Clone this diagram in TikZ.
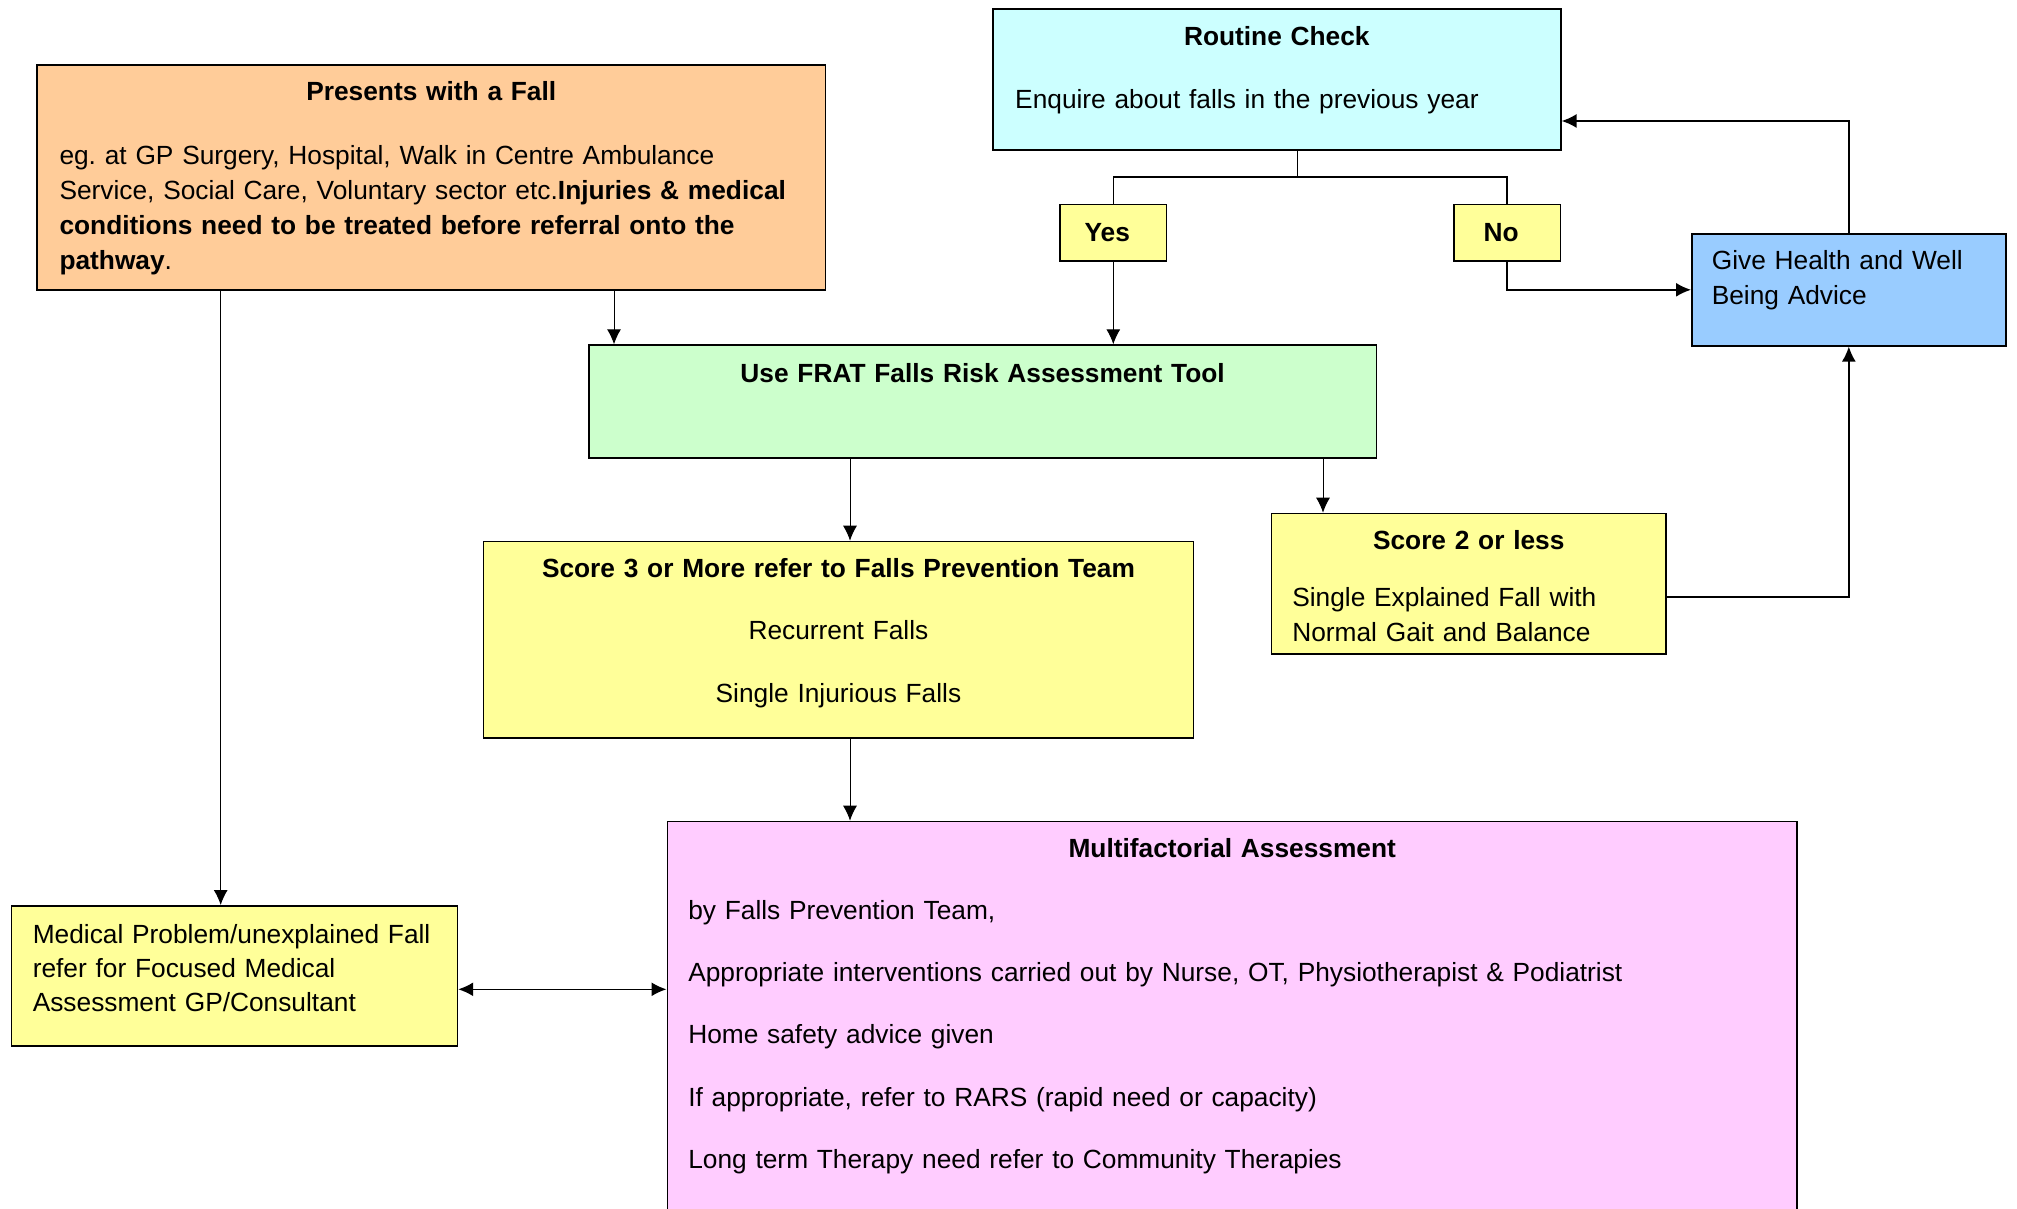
\documentclass[tikz,border=0pt]{standalone}
\usepackage{fontspec}
\setmainfont{Liberation Sans}
\usetikzlibrary{arrows.meta,calc}
\frenchspacing

\definecolor{fallorange}{HTML}{FFCC99}
\definecolor{checkcyan}{HTML}{CCFFFF}
\definecolor{fratgreen}{HTML}{CCFFCC}
\definecolor{scoreyellow}{HTML}{FFFF99}
\definecolor{adviceblue}{HTML}{99CCFF}
\definecolor{assesspink}{HTML}{FFCCFF}

\newcommand{\padtop}[1]{\rule{0pt}{#1}}
\newcommand{\padbot}[1]{\rule[-#1]{0pt}{#1}}
\newcommand{\boxtitle}[1]{\makebox[\hsize]{\bfseries #1}}

\begin{document}
\begin{tikzpicture}[x=0.5pt, y=-0.5pt, >={Latex[length=7.5pt,width=7pt]},
  block/.style={rectangle, draw, line width=0.8pt, anchor=north west, inner ysep=0pt, align=left,
    font=\fontsize{13.15pt}{17.5pt}\selectfont},
  choice/.style={rectangle, draw, line width=0.8pt, fill=scoreyellow, minimum width=53.25pt,
    minimum height=28.15pt, inner sep=0pt, font=\fontsize{13.15pt}{17.5pt}\selectfont\bfseries},
  thin link/.style={line width=0.5pt},
  thick link/.style={line width=0.8pt}]
  \useasboundingbox (0,0) rectangle (2017,1209);

  \node[block, fill=fallorange, text width=371.8pt, inner xsep=11.15pt] (fall) at (36.4,64.3)
    {\padtop{17.75pt}\boxtitle{Presents with a Fall}\\[14.5pt]
     eg. at GP Surgery, Hospital, Walk in Centre Ambulance\\
     Service, Social Care, Voluntary sector etc.\textbf{Injuries \& medical}\\
     \textbf{conditions need to be treated before referral onto the}\\
     \textbf{pathway}.\padbot{10.25pt}};
  \node[block, fill=checkcyan, text width=261.6pt, inner xsep=11.2pt] (routine) at (992,8.3)
    {\padtop{18.25pt}\boxtitle{Routine Check}\\[14.15pt]
     Enquire about falls in the previous year\padbot{20.6pt}};
  \node[choice] (yes) at (1113.3,232.8) {Yes\kern6pt};
  \node[choice] (no) at (1507.1,232.8) {No\kern6pt};
  \node[block, fill=adviceblue, text width=137pt, inner xsep=10pt] (give) at (1691,233)
    {\padtop{17.9pt}Give Health and Well\\
     Being Advice\padbot{20.6pt}};
  \node[block, fill=fratgreen, text width=371.8pt, inner xsep=11pt, align=center] (frat) at (588,344.3)
    {\padtop{18.45pt}\textbf{Use FRAT Falls Risk Assessment Tool}\padbot{37.9pt}};
  \node[block, fill=scoreyellow, text width=332.95pt, inner xsep=11pt, align=center] (score3) at (482.7,540.7)
    {\padtop{17.75pt}\textbf{Score 3 or More refer to Falls Prevention Team}\\[13.75pt]
     Recurrent Falls\\[13.75pt]
     Single Injurious Falls\padbot{17.9pt}};
  \node[block, fill=scoreyellow, text width=176.45pt, inner xsep=10.4pt] (score2) at (1270.7,512.7)
    {\padtop{18.05pt}\boxtitle{Score 2 or less}\\[11pt]
     Single Explained Fall with\\
     Normal Gait and Balance\padbot{6.05pt}};
  \node[block, fill=scoreyellow, text width=201.7pt, inner xsep=10.6pt,
    font=\fontsize{13.15pt}{17pt}\selectfont] (medical) at (10.8,905)
    {\padtop{18.6pt}Medical Problem/unexplained Fall\\
     refer for Focused Medical\\
     Assessment GP/Consultant\padbot{17.4pt}};
  \node[block, fill=assesspink, text width=543.95pt, inner xsep=10.5pt] (multi) at (666.5,820.7)
    {\padtop{17.75pt}\boxtitle{Multifactorial Assessment}\\[13.65pt]
     by Falls Prevention Team,\\[13.65pt]
     Appropriate interventions carried out by Nurse, OT, Physiotherapist \& Podiatrist\\[13.65pt]
     Home safety advice given\\[13.65pt]
     If appropriate, refer to RARS (rapid need or capacity)\\[13.65pt]
     Long term Therapy need refer to Community Therapies\padbot{36pt}};

  \coordinate (split) at (1297.5,177);
  \draw[thick link] (routine.south -| split) -- (split);
  \draw[thick link] (yes.north) |- (split) -| (no.north);
  \draw[thin link, ->] (yes.south) -- (frat.north -| yes.south);
  \draw[thick link, ->] (no.south) |- (give.west);
  \draw[thick link, ->] (give.north) |- (routine.east |- 0,121);
  \draw[thin link, ->] (fall.south -| 614,0) -- (frat.north -| 614,0);
  \draw[thin link, ->] (fall.south -| 220.7,0) -- (medical.north -| 220.7,0);
  \draw[thin link, ->] (frat.south -| 850,0) -- (score3.north -| 850,0);
  \draw[thin link, ->] (frat.south -| 1323,0) -- (score2.north -| 1323,0);
  \draw[thick link, ->] (score2.east |- 0,596.7) -| (give.south);
  \draw[thin link, ->] (score3.south -| 850,0) -- (multi.north -| 850,0);
  \draw[thick link, <->] (medical.east |- 0,989.3) -- (multi.west |- 0,989.3);
\end{tikzpicture}
\end{document}
